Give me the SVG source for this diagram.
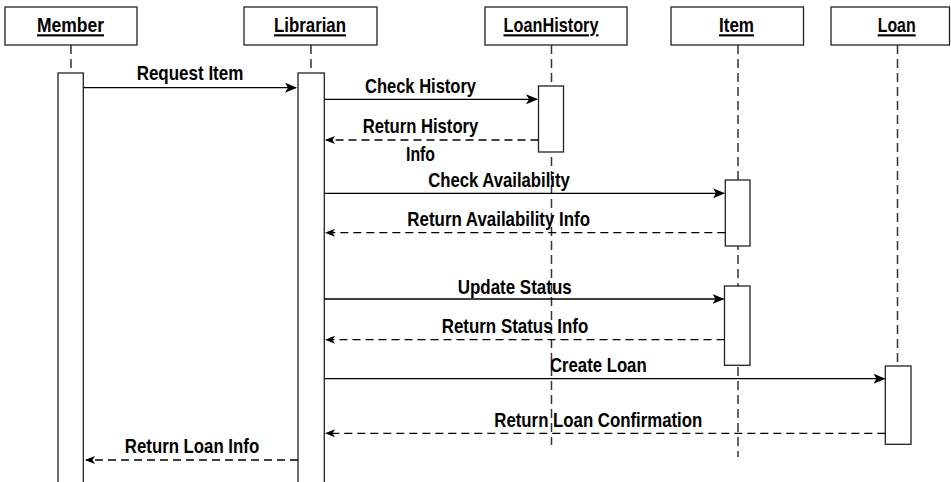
<svg xmlns="http://www.w3.org/2000/svg" width="951" height="482" viewBox="0 0 951 482">
<defs>
<style>
.box{fill:#fff;stroke:#222;stroke-width:1.3}
.act{fill:#fff;stroke:#222;stroke-width:1.3}
.life{stroke:#333;stroke-width:1.5;stroke-dasharray:9 5;fill:none}
.msg{stroke:#000;stroke-width:1.3;fill:none}
.ret{stroke:#000;stroke-width:1.3;fill:none;stroke-dasharray:8 5}
text{font-family:"Liberation Sans","DejaVu Sans Condensed",sans-serif;font-weight:bold;font-size:21px;fill:#000;text-anchor:middle}
.hdr{text-decoration:underline}
</style>
<marker id="ah" viewBox="0 0 12 10" refX="11" refY="5" markerWidth="12" markerHeight="10" markerUnits="userSpaceOnUse" orient="auto">
<path d="M0,0 L12,5 L0,10 L3,5 Z" fill="#000"/>
</marker>
<marker id="rh" viewBox="0 0 10 10" refX="9" refY="5" markerWidth="10" markerHeight="10" markerUnits="userSpaceOnUse" orient="auto">
<path d="M0,1 L10,5 L0,9 L2.5,5 Z" fill="#000"/>
</marker>
</defs>
<rect width="951" height="482" fill="#fff"/>

<g id="lifelines">
<line class="life" x1="71" y1="45" x2="71" y2="73"/>
<line class="life" x1="311" y1="45" x2="311" y2="73"/>
<line class="life" x1="551.5" y1="45" x2="551.5" y2="445"/>
<line class="life" x1="738" y1="45" x2="738" y2="457"/>
<line class="life" x1="897.5" y1="45" x2="897.5" y2="366"/>
</g>

<g id="member">
<rect class="box" x="5" y="7" width="132" height="38"/>
<text class="hdr" x="70.5" y="32.3" textLength="67" lengthAdjust="spacingAndGlyphs">Member</text>
<rect class="act" x="58" y="73" width="25.3" height="415"/>
</g>

<g id="librarian">
<rect class="box" x="244" y="7" width="133" height="38"/>
<text class="hdr" x="310" y="32.3" textLength="72" lengthAdjust="spacingAndGlyphs">Librarian</text>
<rect class="act" x="298" y="73" width="26.3" height="415"/>
</g>

<g id="loanhistory">
<rect class="box" x="485" y="7" width="142" height="38"/>
<text class="hdr" x="551" y="32.3" textLength="95" lengthAdjust="spacingAndGlyphs">LoanHistory</text>
<rect class="act" x="538.5" y="86" width="25" height="66"/>
</g>

<g id="item">
<rect class="box" x="671" y="7" width="132.5" height="38"/>
<text class="hdr" x="736.5" y="32.3" textLength="35" lengthAdjust="spacingAndGlyphs">Item</text>
<rect class="act" x="725.3" y="180" width="24.7" height="66"/>
<rect class="act" x="724.5" y="286" width="25.5" height="79.3"/>
</g>

<g id="loan">
<rect class="box" x="831" y="7" width="118.5" height="38"/>
<text class="hdr" x="896.7" y="32.3" textLength="38" lengthAdjust="spacingAndGlyphs">Loan</text>
<rect class="act" x="885.3" y="366" width="25.7" height="78.3"/>
</g>

<g id="connectors">
<line class="msg" x1="83.3" y1="87.7" x2="296" y2="87.7" marker-end="url(#ah)"/>
<text x="190" y="80" textLength="106.7" lengthAdjust="spacingAndGlyphs">Request Item</text>

<line class="msg" x1="324.3" y1="99.3" x2="537" y2="99.3" marker-end="url(#ah)"/>
<text x="420.5" y="93.3" textLength="111" lengthAdjust="spacingAndGlyphs">Check History</text>

<line class="ret" x1="538.5" y1="140" x2="326" y2="140" marker-end="url(#rh)"/>
<text x="420.5" y="133.3" textLength="115.6" lengthAdjust="spacingAndGlyphs">Return History</text>
<text x="420.5" y="161" textLength="29" lengthAdjust="spacingAndGlyphs">Info</text>

<line class="msg" x1="324.3" y1="193.3" x2="724" y2="193.3" marker-end="url(#ah)"/>
<text x="499" y="186.7" textLength="141.7" lengthAdjust="spacingAndGlyphs">Check Availability</text>

<line class="ret" x1="725.3" y1="232.7" x2="326" y2="232.7" marker-end="url(#rh)"/>
<text x="498.7" y="226" textLength="182.7" lengthAdjust="spacingAndGlyphs">Return Availability Info</text>

<line class="msg" x1="324.3" y1="299" x2="723.5" y2="299" marker-end="url(#ah)"/>
<text x="514.7" y="294" textLength="114" lengthAdjust="spacingAndGlyphs">Update Status</text>

<line class="ret" x1="724.5" y1="339.7" x2="326" y2="339.7" marker-end="url(#rh)"/>
<text x="515" y="333.3" textLength="146.6" lengthAdjust="spacingAndGlyphs">Return Status Info</text>

<line class="msg" x1="324.3" y1="378.7" x2="884.5" y2="378.7" marker-end="url(#ah)"/>
<text x="598.3" y="372.3" textLength="96.7" lengthAdjust="spacingAndGlyphs">Create Loan</text>

<line class="ret" x1="885.3" y1="433.3" x2="326" y2="433.3" marker-end="url(#rh)"/>
<text x="598.3" y="426.7" textLength="208" lengthAdjust="spacingAndGlyphs">Return Loan Confirmation</text>

<line class="ret" x1="298" y1="460" x2="86" y2="460" marker-end="url(#rh)"/>
<text x="192" y="452.7" textLength="134.3" lengthAdjust="spacingAndGlyphs">Return Loan Info</text>
</g>
</svg>
